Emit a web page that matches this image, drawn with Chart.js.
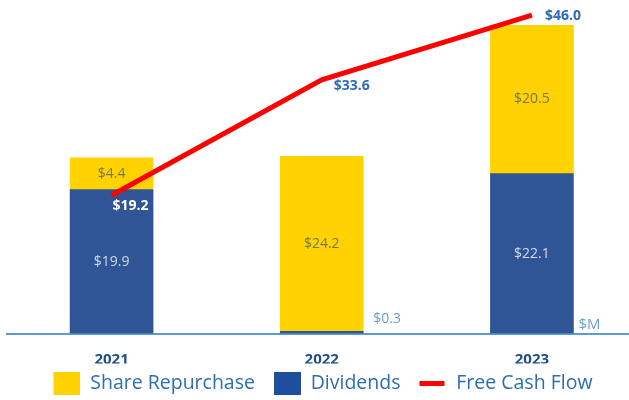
<!DOCTYPE html>
<html>
<head>
<meta charset="utf-8">
<script src="https://cdn.jsdelivr.net/npm/chart.js@4/dist/chart.umd.min.js"></script>
<style>
  html, body { margin: 0; padding: 0; background: #ffffff; overflow: hidden; }
  #wrap { width: 637px; height: 400px; position: relative; }
</style>
</head>
<body>
<div id="wrap"><canvas id="c"></canvas></div>
<script>
// ---- data ----
const years = ['2021', '2022', '2023'];
const shareRepurchase = [4.4, 24.2, 20.5];
const dividends = [19.9, 0.3, 22.1];
const freeCashFlow = [19.2, 33.6, 46.0];
const seriesNames = ['Share Repurchase', 'Dividends', 'Free Cash Flow'];
const unitLabel = '$M';

// ---- styles ----
const YELLOW = '#FFD200';
const BLUE = '#2F5597';
const RED = '#FF0000';
const AXIS = '#5B9BD5';
const FONT = "'Open Sans', 'DejaVu Sans', sans-serif";

const LEAD = 9;
const BOXW = 36;
function iconCanvas(w, h, color) {
  const c = document.createElement('canvas');
  c.width = BOXW; c.height = h;
  const x = c.getContext('2d');
  x.fillStyle = color;
  x.fillRect(LEAD, 0, w, h);
  return c;
}
const legendIcons = {
  'Share Repurchase': iconCanvas(27, 23, YELLOW),
  'Dividends': iconCanvas(27, 23, '#1F4E9C'),
  'Free Cash Flow': iconCanvas(25, 5, RED)
};

const fmt = v => '$' + v.toFixed(1);

const labelPlugin = {
  id: 'valueLabels',
  afterDatasetsDraw(chart) {
    const ctx = chart.ctx;
    ctx.save();
    ctx.textBaseline = 'middle';
    const metaB = chart.getDatasetMeta(0);
    const metaY = chart.getDatasetMeta(1);
    const metaL = chart.getDatasetMeta(2);
    metaY.data.forEach((el, i) => {
      ctx.font = "14px " + FONT;
      ctx.fillStyle = '#77784C';
      ctx.textAlign = 'center';
      ctx.fillText(fmt(shareRepurchase[i]), el.x, (el.y + el.base) / 2);
    });
    metaB.data.forEach((el, i) => {
      ctx.font = "14px " + FONT;
      const h = Math.abs(el.base - el.y);
      if (h < 20) {
        ctx.fillStyle = '#6E9DCB';
        ctx.textAlign = 'left';
        ctx.fillText(fmt(dividends[i]), el.x + el.width / 2 + 10, el.base - 14);
      } else {
        ctx.fillStyle = '#D3D8E8';
        ctx.textAlign = 'center';
        ctx.fillText(fmt(dividends[i]), el.x, (el.y + el.base) / 2);
      }
    });
    const last = metaB.data[metaB.data.length - 1];
    ctx.font = "15px " + FONT;
    ctx.fillStyle = '#6E9DCB';
    ctx.textAlign = 'left';
    ctx.fillText(unitLabel, last.x + last.width / 2 + 5, last.base - 9);
    metaL.data.forEach((el, i) => {
      ctx.font = "bold 14px " + FONT;
      ctx.textAlign = 'left';
      if (i === 0) {
        ctx.fillStyle = '#FFFFFF';
        ctx.fillText(fmt(freeCashFlow[i]), el.x + 1, el.y + 11);
      } else if (i === 1) {
        ctx.fillStyle = '#2E6DB4';
        ctx.fillText(fmt(freeCashFlow[i]), el.x + 12, el.y + 6);
      } else {
        ctx.fillStyle = '#2E6DB4';
        ctx.fillText(fmt(freeCashFlow[i]), el.x + 13, el.y + 1);
      }
    });
    ctx.restore();
  }
};

new Chart(document.getElementById('c'), {
  data: {
    labels: years,
    datasets: [
      { type: 'bar', label: seriesNames[1], data: dividends, backgroundColor: BLUE,
        stack: 's', yAxisID: 'y', order: 2, barThickness: 83 },
      { type: 'bar', label: seriesNames[0], data: shareRepurchase, backgroundColor: YELLOW,
        stack: 's', yAxisID: 'y', order: 2, barThickness: 83 },
      { type: 'line', label: seriesNames[2], data: freeCashFlow, borderColor: RED, backgroundColor: RED,
        borderWidth: 5, pointRadius: 0, tension: 0, yAxisID: 'y2', order: 0, clip: false }
    ]
  },
  options: {
    responsive: true,
    maintainAspectRatio: false,
    animation: false,
    layout: { padding: { left: 0, right: 0, top: 0, bottom: -3 } },
    scales: {
      x: {
        stacked: true,
        grid: { display: false, drawTicks: false },
        border: { display: true, color: AXIS, width: 2 },
        ticks: { color: '#1F4E8C', font: { family: FONT, size: 15, weight: 'bold' }, padding: 17 },
        afterFit(scale) { scale.height = 30; }
      },
      y: {
        stacked: true, display: true, min: 0, max: 46.1,
        grid: { display: false, drawTicks: false },
        border: { display: false },
        ticks: { display: false },
        afterFit(scale) { scale.width = 6.5; }
      },
      y2: { type: 'logarithmic', display: false, min: 9.82, max: 49.5 }
    },
    plugins: {
      legend: {
        position: 'bottom',
        labels: {
          usePointStyle: true,
          pointStyleWidth: BOXW,
          padding: 10,
          color: '#2E6DB0',
          font: { family: FONT, size: 19.5 },
          generateLabels(chart) {
            return seriesNames.map(name => {
              const i = chart.data.datasets.findIndex(d => d.label === name);
              return {
                text: name,
                pointStyle: legendIcons[name],
                fillStyle: 'transparent',
                strokeStyle: 'transparent',
                lineWidth: 0,
                fontColor: '#2E6DB0',
                hidden: false,
                datasetIndex: i
              };
            });
          }
        }
      },
      tooltip: { enabled: false }
    }
  },
  plugins: [labelPlugin]
});
</script>
</body>
</html>
